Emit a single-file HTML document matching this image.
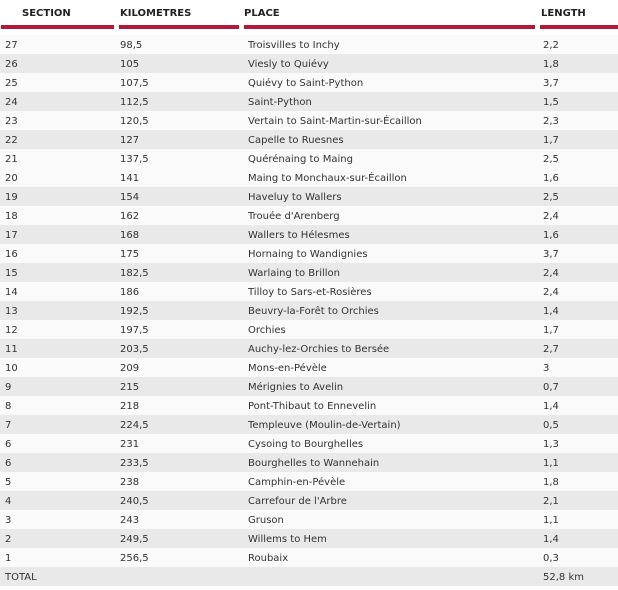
<!DOCTYPE html>
<html><head><meta charset="utf-8"><style>
body{margin:0;width:618px;height:590px;background:#fff;font-family:"DejaVu Sans","Liberation Sans",sans-serif;font-size:10px;color:#333;position:relative;overflow:hidden}
.h{position:absolute;top:8px;font-weight:bold;font-size:10px;color:#222}
.bar{position:absolute;top:25px;height:4px;background:#b5173a}
.r{position:absolute;left:0;width:618px;height:19px;line-height:21px;background:#fafafa}
.r.g{background:#e9e9e9}
.r span{position:absolute;top:0}
.a{left:5px}.b{left:120px}.c{left:248px}.d{left:543px}
</style></head><body>
<div class="h" style="left:22px">SECTION</div>
<div class="h" style="left:120px">KILOMETRES</div>
<div class="h" style="left:244px">PLACE</div>
<div class="h" style="left:541px">LENGTH</div>
<div class="bar" style="left:1px;width:113px"></div>
<div class="bar" style="left:119px;width:120px"></div>
<div class="bar" style="left:244px;width:291px"></div>
<div class="bar" style="left:540px;width:78px"></div>
<div id="rows"></div>
<script>
var d=[["27","98,5","Troisvilles to Inchy","2,2"],["26","105","Viesly to Quiévy","1,8"],["25","107,5","Quiévy to Saint-Python","3,7"],["24","112,5","Saint-Python","1,5"],["23","120,5","Vertain to Saint-Martin-sur-Écaillon","2,3"],["22","127","Capelle to Ruesnes","1,7"],["21","137,5","Quérénaing to Maing","2,5"],["20","141","Maing to Monchaux-sur-Écaillon","1,6"],["19","154","Haveluy to Wallers","2,5"],["18","162","Trouée d'Arenberg","2,4"],["17","168","Wallers to Hélesmes","1,6"],["16","175","Hornaing to Wandignies","3,7"],["15","182,5","Warlaing to Brillon","2,4"],["14","186","Tilloy to Sars-et-Rosières","2,4"],["13","192,5","Beuvry-la-Forêt to Orchies","1,4"],["12","197,5","Orchies","1,7"],["11","203,5","Auchy-lez-Orchies to Bersée","2,7"],["10","209","Mons-en-Pévèle","3"],["9","215","Mérignies to Avelin","0,7"],["8","218","Pont-Thibaut to Ennevelin","1,4"],["7","224,5","Templeuve (Moulin-de-Vertain)","0,5"],["6","231","Cysoing to Bourghelles","1,3"],["6","233,5","Bourghelles to Wannehain","1,1"],["5","238","Camphin-en-Pévèle","1,8"],["4","240,5","Carrefour de l'Arbre","2,1"],["3","243","Gruson","1,1"],["2","249,5","Willems to Hem","1,4"],["1","256,5","Roubaix","0,3"],["TOTAL","","","52,8 km"]];
var h="";d.forEach(function(r,i){var g=i<7?(i%2==1):(i%2==0);h+='<div class="r'+(g?' g':'')+'" style="top:'+(35+19*i)+'px"><span class="a">'+r[0]+'</span><span class="b">'+r[1]+'</span><span class="c">'+r[2]+'</span><span class="d">'+r[3]+'</span></div>';});
document.getElementById("rows").innerHTML=h;
</script>
</body></html>
